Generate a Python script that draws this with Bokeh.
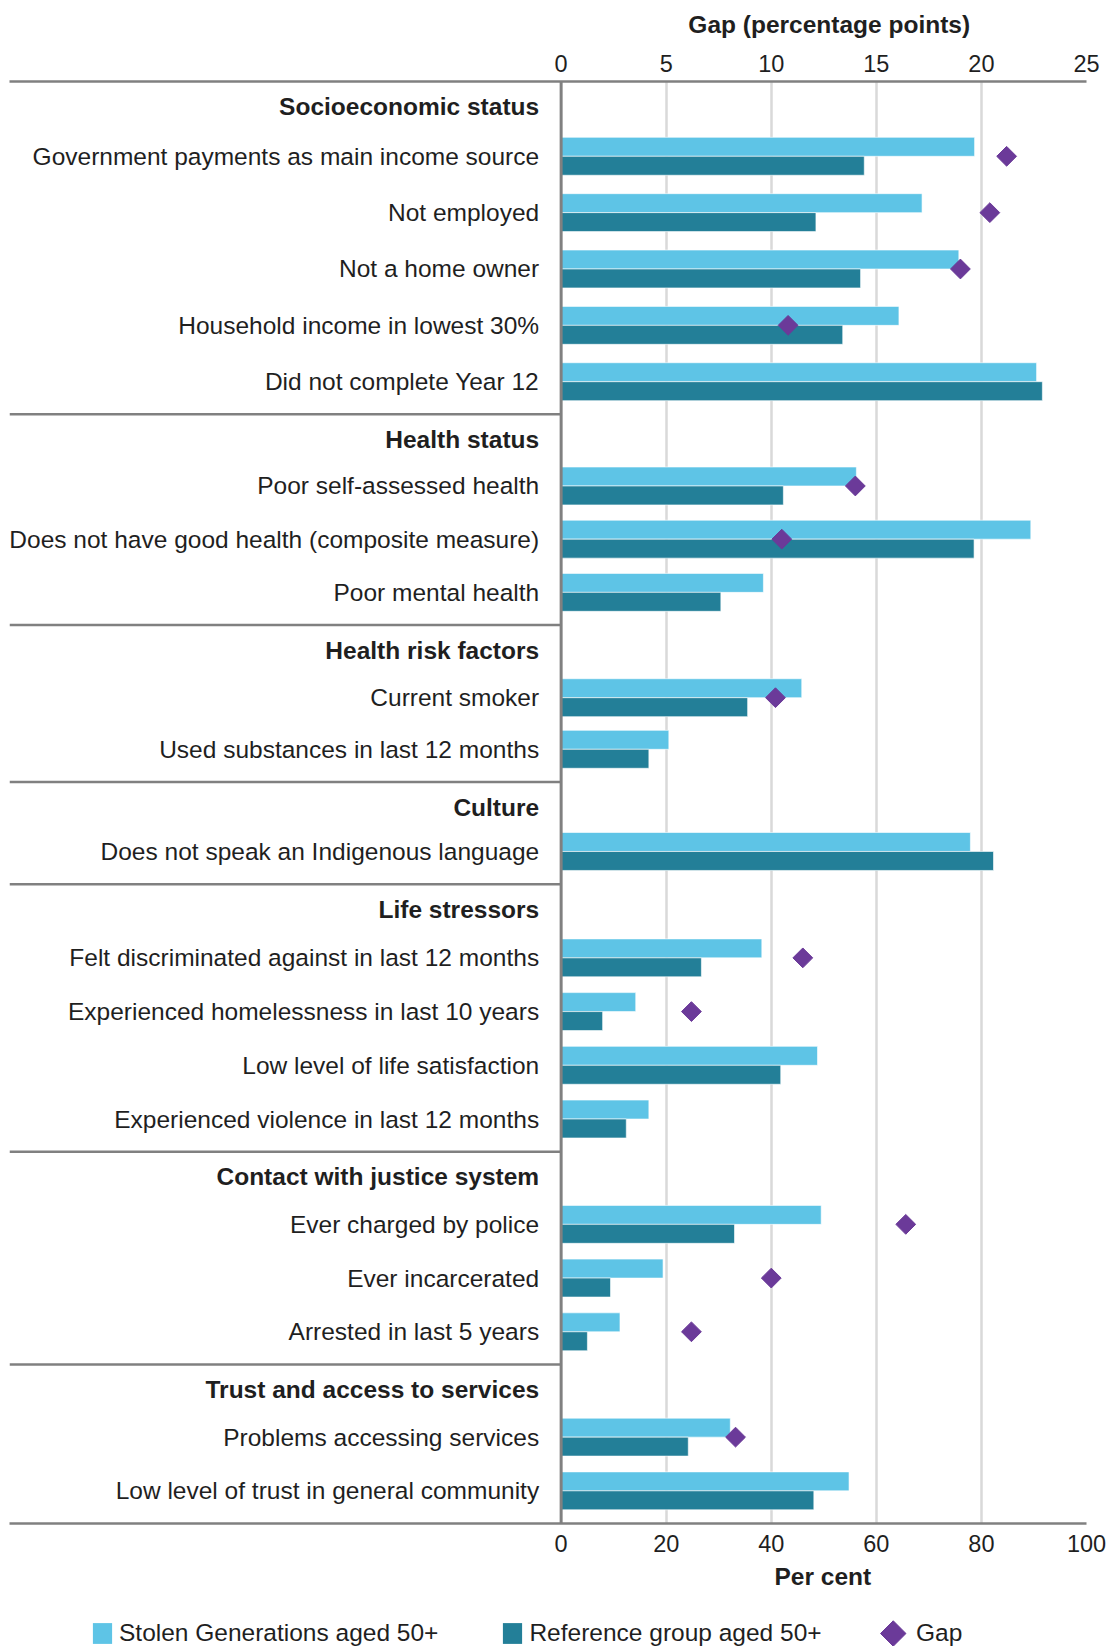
import math
from bokeh.plotting import figure
from bokeh.layouts import column
from bokeh.models import (Range1d, LinearAxis, FixedTicker, Span, Title,
                          Legend, LegendItem, Label)
from bokeh.core.properties import value
from bokeh.embed import file_html
from bokeh.resources import INLINE

# ---------------- data ----------------
sections = ["Socioeconomic status", "Health status", "Health risk factors",
            "Culture", "Life stressors", "Contact with justice system",
            "Trust and access to services"]
section_sizes = [5, 3, 2, 1, 4, 3, 2]
items = [
    "Government payments as main income source",
    "Not employed",
    "Not a home owner",
    "Household income in lowest 30%",
    "Did not complete Year 12",
    "Poor self-assessed health",
    "Does not have good health (composite measure)",
    "Poor mental health",
    "Current smoker",
    "Used substances in last 12 months",
    "Does not speak an Indigenous language",
    "Felt discriminated against in last 12 months",
    "Experienced homelessness in last 10 years",
    "Low level of life satisfaction",
    "Experienced violence in last 12 months",
    "Ever charged by police",
    "Ever incarcerated",
    "Arrested in last 5 years",
    "Problems accessing services",
    "Low level of trust in general community",
]
stolen = [78.7, 68.7, 75.7, 64.3, 90.5, 56.2, 89.4, 38.5, 45.8, 20.5,
          77.9, 38.2, 14.2, 48.8, 16.7, 49.5, 19.4, 11.2, 32.2, 54.8]
reference = [57.7, 48.5, 57.0, 53.6, 91.6, 42.3, 78.6, 30.4, 35.5, 16.7,
             82.3, 26.7, 7.9, 41.8, 12.4, 33.0, 9.4, 5.0, 24.2, 48.1]
gap = [21.2, 20.4, 19.0, 10.8, None, 14.0, 10.5, None, 10.2, None,
       None, 11.5, 6.2, None, None, 16.4, 10.0, 6.2, 8.3, None]
pct_ticks = [0, 20, 40, 60, 80, 100]
gap_ticks = [0, 5, 10, 15, 20, 25]

# ---------------- vertical layout (layout units) ----------------
HEAD_OFF, FIRST_OFF, TAIL, BAR_H = 24.0, 69.0, 31.0, 18.0
SECTION_STEP = [53.5, 50.5, 49.0, 51.0, 51.0, 51.0, 51.0]
SECTION_FIRST = [71.0, 68.0, 69.0, 66.0, 70.0, 69.0, 69.0]
row_y, head_y, sep_y = [], [], []
cur = 0.0
for n, step, first in zip(section_sizes, SECTION_STEP, SECTION_FIRST):
    if cur > 0:
        sep_y.append(cur)
    head_y.append(cur + HEAD_OFF)
    for k in range(n):
        row_y.append(cur + first + k * step)
    cur = cur + first + (n - 1) * step + TAIL
total = cur

X_START = -105.0
FONT = "Liberation Sans"
TXT = "#1f1f1f"
GREY = "#808080"
C_SG = "#5EC4E6"
C_REF = "#237F98"
C_GAP = "#6B3A99"
W = 1109


def strip(height):
    f = figure(width=W, height=height, x_range=Range1d(0, W),
               y_range=Range1d(0, height), x_axis_location=None,
               y_axis_location=None, title=None, toolbar_location=None,
               output_backend="svg", min_border=0)
    f.outline_line_color = None
    f.xgrid.visible = False
    f.ygrid.visible = False
    return f


# ---------------- top strip: gap axis title ----------------
TOP_H = 48
top_strip = strip(TOP_H)
top_strip.add_layout(Label(x=699, y=TOP_H / 2, text="Gap (percentage points)",
                           text_align="left", text_baseline="middle",
                           text_font=FONT, text_font_size="24.5px",
                           text_font_style="bold", text_color=TXT))

# ---------------- main chart ----------------
p = figure(width=W, height=1558, x_range=Range1d(X_START, 100),
           y_range=Range1d(total, 0), y_axis_location=None,
           title=None, toolbar_location=None, output_backend="svg",
           min_border_left=9, min_border_right=23, min_border_top=33,
           min_border_bottom=83)
p.outline_line_color = None
p.background_fill_color = "white"
p.border_fill_color = "white"

p.ygrid.visible = False
p.xgrid.ticker = FixedTicker(ticks=pct_ticks[1:])
p.xgrid.grid_line_color = "#d9d9d9"
p.xgrid.grid_line_width = 2.5

bottom = p.below[0]
bottom.ticker = FixedTicker(ticks=pct_ticks)
p.extra_x_ranges = {"gap": Range1d(X_START / 4.0, 25)}
top = LinearAxis(x_range_name="gap", ticker=FixedTicker(ticks=gap_ticks))
p.add_layout(top, "above")
for ax in (top, bottom):
    ax.axis_line_color = GREY
    ax.axis_line_width = 2.5
    ax.major_tick_line_color = None
    ax.minor_tick_line_color = None
    ax.major_label_text_font = FONT
    ax.major_label_text_font_size = "23.5px"
    ax.major_label_text_color = TXT
top.major_label_standoff = 4
bottom.major_label_standoff = 5

p.add_layout(Span(location=0, dimension="height", line_color=GREY,
                  line_width=3))
p.segment(x0=[X_START] * len(sep_y), y0=sep_y, x1=[0] * len(sep_y), y1=sep_y,
          line_color=GREY, line_width=2.5)

p.hbar(y=[y - BAR_H / 2 for y in row_y], left=0, right=stolen,
       height=BAR_H, fill_color=C_SG, line_color="white",
       line_width=1, line_alpha=0.6)
p.hbar(y=[y + BAR_H / 2 for y in row_y], left=0, right=reference,
       height=BAR_H, fill_color=C_REF, line_color="white",
       line_width=1, line_alpha=0.6)

gx = [g for g in gap if g is not None]
gy = [y for g, y in zip(gap, row_y) if g is not None]
p.scatter(x=gx, y=gy, x_range_name="gap", marker="square", size=14,
          angle=math.pi / 4, fill_color=C_GAP, line_color=C_GAP)

p.text(x=[0] * len(items), y=row_y, text=items, x_offset=-22,
       text_align="right", text_baseline="middle", text_font=value(FONT),
       text_font_size="24.5px", text_color=TXT)
p.text(x=[0] * len(sections), y=head_y, text=sections, x_offset=-22,
       text_align="right", text_baseline="middle", text_font=value(FONT),
       text_font_size="24.5px", text_font_style="bold", text_color=TXT)

p.add_layout(Title(text="Per cent", align="left", offset=765,
                   text_font=FONT, text_font_size="24.5px",
                   text_font_style="bold", text_color=TXT, standoff=13),
             "below")

# ---------------- legend strip ----------------
LEG_H = 40
lg = strip(LEG_H)
nan = float("nan")
l_sg = lg.hbar(y=[nan], left=[0], right=[nan], height=1, fill_color=C_SG,
               line_color=None)
l_ref = lg.hbar(y=[nan], left=[0], right=[nan], height=1, fill_color=C_REF,
                line_color=None)
l_gap = lg.hbar(y=[nan], left=[0], right=[nan], height=1, fill_alpha=0,
                line_color=None)
leg_style = dict(orientation="horizontal", label_text_font=FONT,
                 label_text_font_size="24.5px", label_text_color=TXT,
                 border_line_color=None, background_fill_alpha=0,
                 padding=2, margin=0, glyph_height=26, label_height=26)
LEG_VY = -1
legend1 = Legend(items=[
    LegendItem(label="Stolen Generations aged 50+", renderers=[l_sg]),
    LegendItem(label="Reference group aged 50+", renderers=[l_ref])],
    location=(81, LEG_VY), spacing=62, glyph_width=24, label_standoff=5,
    **leg_style)
GAP_KEY_X = 872
legend2 = Legend(items=[LegendItem(label="Gap", renderers=[l_gap])],
                 location=(GAP_KEY_X, LEG_VY), glyph_width=26,
                 label_standoff=9, **leg_style)
lg.add_layout(legend1)
lg.add_layout(legend2)
# diamond key drawn just left of the "Gap" entry label
KEY_CX = GAP_KEY_X + 38
KEY_CY = LEG_H - 27
lg.scatter(x=[KEY_CX], y=[KEY_CY], marker="square", size=18,
           angle=math.pi / 4, fill_color=C_GAP, line_color=C_GAP)

layout = column(top_strip, p, lg, spacing=0)
open("out.html", "w").write(file_html(layout, INLINE))
